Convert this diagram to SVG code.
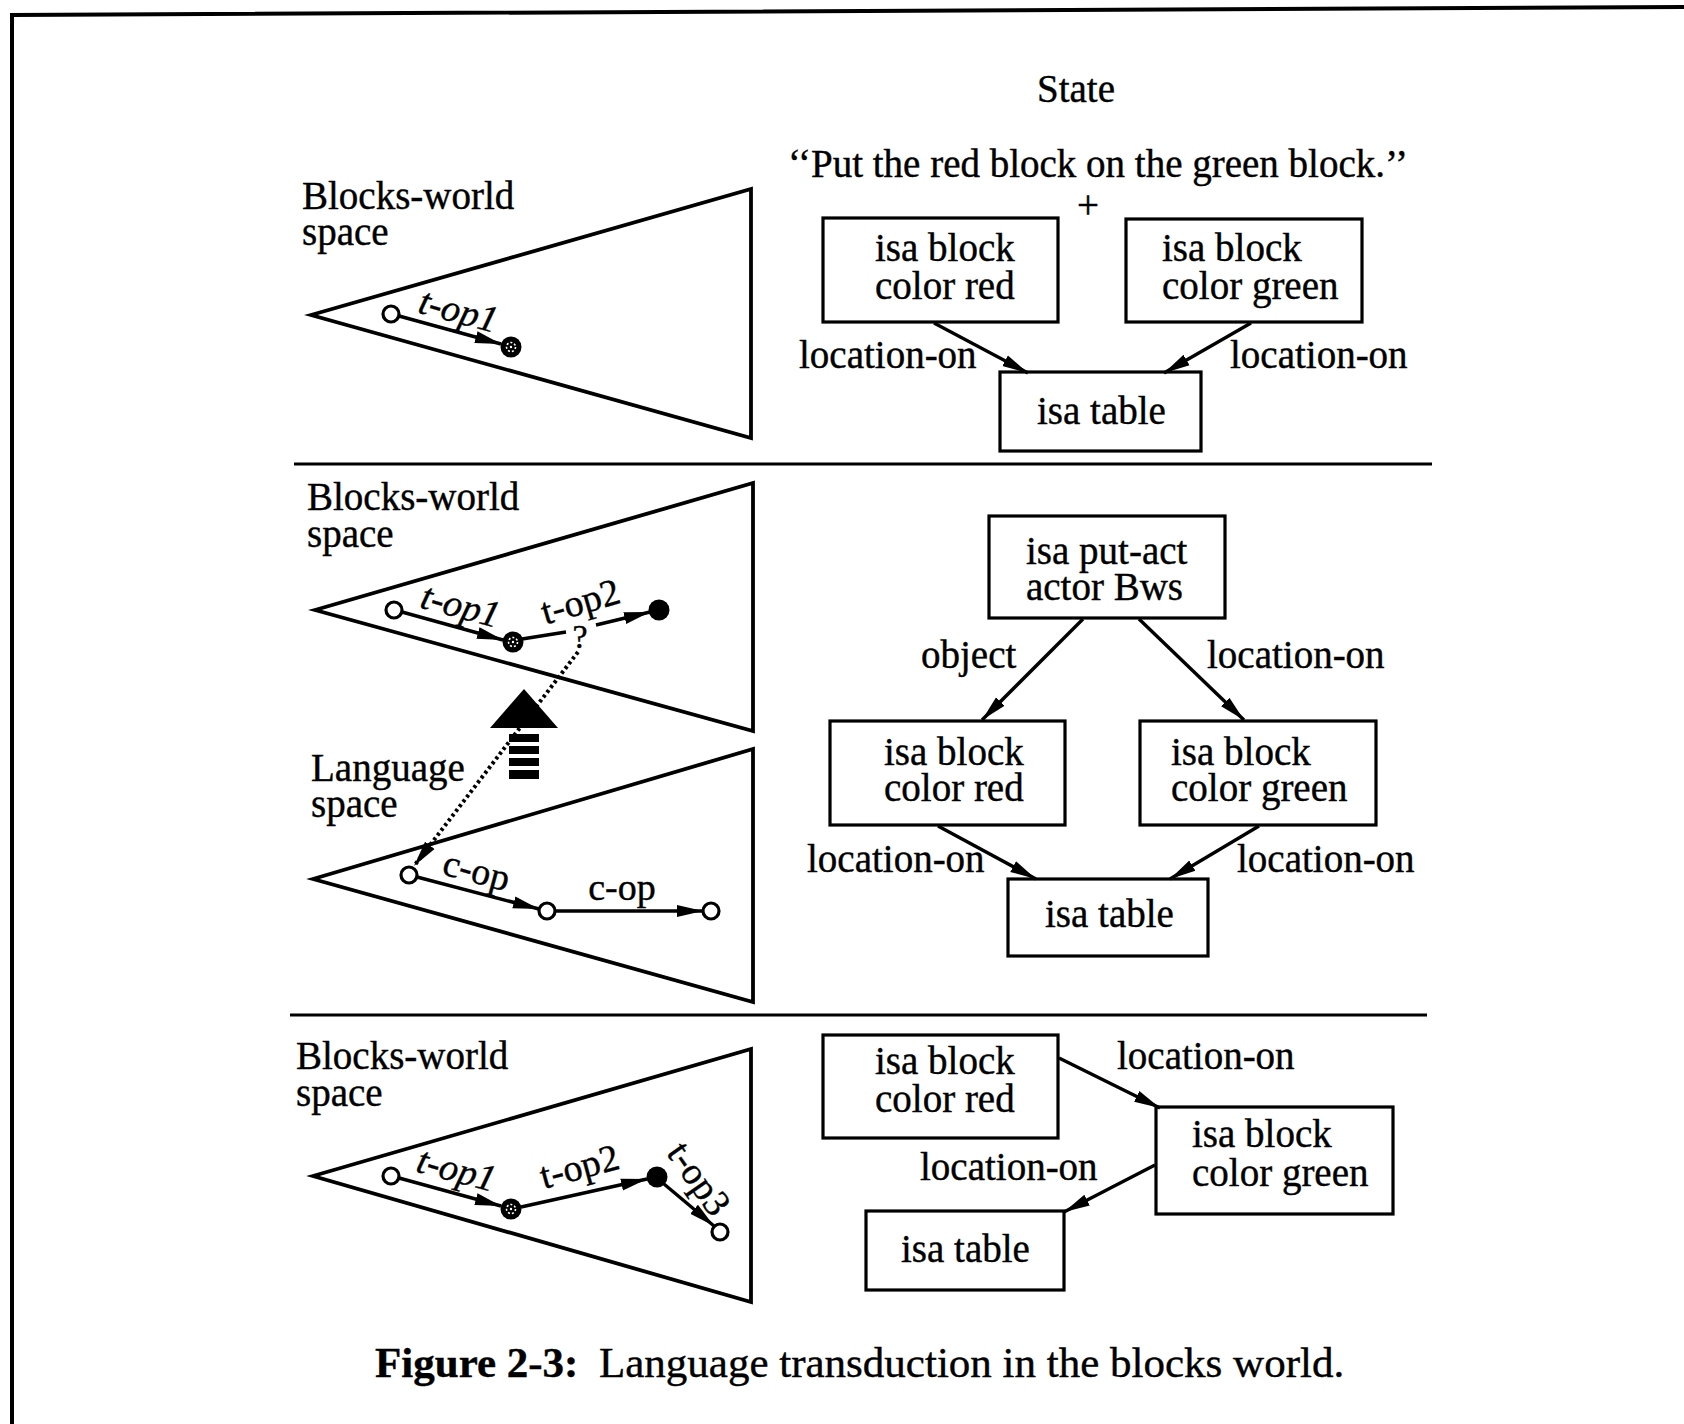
<svg xmlns="http://www.w3.org/2000/svg" width="1684" height="1424" viewBox="0 0 1684 1424">
  <style>
    text { font-family: "Liberation Serif", "Times New Roman", serif; font-size: 39px; fill: #000; stroke: #000; stroke-width: 0.4; }
    .lbl { font-size: 38px; }
    .it { font-style: italic; }
    .cap { font-size: 43px; }
    .box { fill: #fff; stroke: #000; stroke-width: 3.2; }
    .space { fill: none; stroke: #000; stroke-width: 3.8; stroke-linejoin: miter; }
    .edge { fill: none; stroke: #000; stroke-width: 3.4; }
    .rule { fill: none; stroke: #000; stroke-width: 3.2; }
    .open { fill: #fff; stroke: #000; stroke-width: 3.2; }
    .solid { fill: #000; }
    .dots { fill: none; stroke: #000; stroke-width: 4; stroke-dasharray: 3 3; }
  </style>
  <defs>
    <marker id="ah" markerUnits="userSpaceOnUse" markerWidth="28" markerHeight="14" refX="26" refY="7" orient="auto">
      <path d="M0,1 L26,7 L0,13 z" fill="#000"/>
    </marker>
    <!-- intermediate state: dark disc with a light speckle -->
    <g id="mid">
      <circle r="10.5" fill="#000"/>
      <circle r="4.5" fill="none" stroke="#fff" stroke-width="1.6" stroke-dasharray="2 2"/>
      <circle r="1.2" fill="#fff"/>
    </g>
  </defs>

  <rect width="1684" height="1424" fill="#fff"/>

  <!-- page frame -->
  <path d="M12,1424 L12,15 L1684,7" fill="none" stroke="#000" stroke-width="4"/>

  <!-- panel separators -->
  <line class="rule" x1="294" y1="464" x2="1432" y2="464"/>
  <line class="rule" x1="290" y1="1015" x2="1427" y2="1015"/>

  <!-- column heading and utterance -->
  <text x="1076" y="102" text-anchor="middle">State</text>
  <text x="1098" y="177" text-anchor="middle">‘‘Put the red block on the green block.’’</text>
  <text x="1088" y="218" text-anchor="middle">+</text>

  <!-- ===== Panel 1: problem space ===== -->
  <g id="space1">
    <polygon class="space" points="311,315 751,189 751,438"/>
    <text x="302" y="209">Blocks-world</text>
    <text x="302" y="245">space</text>
  </g>

  <!-- ===== Panel 2: problem spaces ===== -->
  <g id="space2-blocks">
    <polygon class="space" points="315,610 753,483 753,731"/>
    <text x="307" y="510">Blocks-world</text>
    <text x="307" y="547">space</text>
  </g>
  <g id="space2-language">
    <polygon class="space" points="313,879 753,749 753,1002"/>
    <text x="311" y="781">Language</text>
    <text x="311" y="817">space</text>
  </g>

  <!-- ===== Panel 3: problem space ===== -->
  <g id="space3">
    <polygon class="space" points="313,1176 751,1049 751,1302"/>
    <text x="296" y="1069">Blocks-world</text>
    <text x="296" y="1106">space</text>
  </g>

  <!-- transduction arrow between the spaces -->
  <g id="transduce">
    <polygon points="524,689 490,728 558,728" fill="#000"/>
    <rect x="509" y="734" width="30" height="8" fill="#000"/>
    <rect x="509" y="746" width="30" height="8" fill="#000"/>
    <rect x="509" y="758" width="30" height="8" fill="#000"/>
    <rect x="509" y="770" width="30" height="9" fill="#000"/>
  </g>

  <!-- state graph boxes -->
  <g id="p1-red">
    <rect class="box" x="823" y="218" width="235" height="104"/>
    <text x="875" y="261">isa block</text>
    <text x="875" y="299">color red</text>
  </g>
  <g id="p1-green">
    <rect class="box" x="1126" y="219" width="236" height="103"/>
    <text x="1162" y="261">isa block</text>
    <text x="1162" y="299">color green</text>
  </g>
  <g id="p1-table">
    <rect class="box" x="1000" y="372" width="201" height="79"/>
    <text x="1037" y="424">isa table</text>
  </g>

  <g id="p2-act">
    <rect class="box" x="989" y="516" width="236" height="102"/>
    <text x="1026" y="564">isa put-act</text>
    <text x="1026" y="600">actor Bws</text>
  </g>
  <g id="p2-red">
    <rect class="box" x="830" y="721" width="235" height="104"/>
    <text x="884" y="765">isa block</text>
    <text x="884" y="801">color red</text>
  </g>
  <g id="p2-green">
    <rect class="box" x="1140" y="721" width="236" height="104"/>
    <text x="1171" y="765">isa block</text>
    <text x="1171" y="801">color green</text>
  </g>
  <g id="p2-table">
    <rect class="box" x="1008" y="879" width="200" height="77"/>
    <text x="1045" y="927">isa table</text>
  </g>

  <g id="p3-red">
    <rect class="box" x="823" y="1035" width="235" height="103"/>
    <text x="875" y="1074">isa block</text>
    <text x="875" y="1112">color red</text>
  </g>
  <g id="p3-green">
    <rect class="box" x="1156" y="1107" width="237" height="107"/>
    <text x="1192" y="1147">isa block</text>
    <text x="1192" y="1186">color green</text>
  </g>
  <g id="p3-table">
    <rect class="box" x="866" y="1211" width="198" height="79"/>
    <text x="901" y="1262">isa table</text>
  </g>

  <!-- connectors -->
  <g id="connectors">
    <!-- panel 1 operators -->
    <line class="edge" x1="399" y1="316" x2="501" y2="344" marker-end="url(#ah)"/>
    <!-- panel 2 operators -->
    <line class="edge" x1="402" y1="612" x2="503" y2="640" marker-end="url(#ah)"/>
    <line class="edge" x1="522" y1="639" x2="566" y2="632"/>
    <line class="edge" x1="596" y1="625" x2="650" y2="612" marker-end="url(#ah)"/>
    <line class="dots" x1="578" y1="652" x2="414" y2="866" marker-end="url(#ah)"/>
    <line class="edge" x1="417" y1="877" x2="539" y2="909" marker-end="url(#ah)"/>
    <line class="edge" x1="555" y1="911" x2="703" y2="911" marker-end="url(#ah)"/>
    <!-- panel 3 operators -->
    <line class="edge" x1="399" y1="1178" x2="501" y2="1206" marker-end="url(#ah)"/>
    <line class="edge" x1="521" y1="1207" x2="647" y2="1179" marker-end="url(#ah)"/>
    <line class="edge" x1="664" y1="1184" x2="714" y2="1226" marker-end="url(#ah)"/>

    <!-- panel 1 relations -->
    <line class="edge" x1="934" y1="323" x2="1028" y2="373" marker-end="url(#ah)"/>
    <line class="edge" x1="1251" y1="323" x2="1164" y2="373" marker-end="url(#ah)"/>
    <!-- panel 2 relations -->
    <line class="edge" x1="1083" y1="619" x2="982" y2="720" marker-end="url(#ah)"/>
    <line class="edge" x1="1139" y1="619" x2="1244" y2="720" marker-end="url(#ah)"/>
    <line class="edge" x1="938" y1="826" x2="1036" y2="879" marker-end="url(#ah)"/>
    <line class="edge" x1="1259" y1="826" x2="1170" y2="879" marker-end="url(#ah)"/>
    <!-- panel 3 relations -->
    <line class="edge" x1="1059" y1="1058" x2="1160" y2="1108" marker-end="url(#ah)"/>
    <line class="edge" x1="1155" y1="1165" x2="1064" y2="1212" marker-end="url(#ah)"/>
  </g>

  <!-- states -->
  <g id="states">
    <circle class="open" cx="391" cy="314" r="8"/>
    <use href="#mid" x="511" y="347"/>

    <circle class="open" cx="394" cy="610" r="8"/>
    <use href="#mid" x="513" y="642"/>
    <circle class="solid" cx="659" cy="610" r="10.5"/>

    <circle class="open" cx="409" cy="875" r="8"/>
    <circle class="open" cx="547" cy="911" r="8"/>
    <circle class="open" cx="711" cy="911" r="8"/>

    <circle class="open" cx="391" cy="1176" r="8"/>
    <use href="#mid" x="511" y="1209"/>
    <circle class="solid" cx="657" cy="1177" r="10.5"/>
    <circle class="open" cx="720" cy="1232" r="8"/>
  </g>

  <!-- operator labels -->
  <g id="op-labels">
    <text class="lbl it" text-anchor="middle" transform="translate(458,313) rotate(15)" y="10">t-op1</text>
    <text class="lbl it" text-anchor="middle" transform="translate(460,608) rotate(15)" y="10">t-op1</text>
    <text class="lbl" text-anchor="middle" transform="translate(581,604) rotate(-16)" y="10">t-op2</text>
    <text class="lbl" text-anchor="middle" x="580" y="648" style="font-size:34px">?</text>
    <text class="lbl" text-anchor="middle" transform="translate(476,873) rotate(15)" y="10">c-op</text>
    <text class="lbl" text-anchor="middle" x="622" y="900">c-op</text>
    <text class="lbl it" text-anchor="middle" transform="translate(456,1172) rotate(15)" y="10">t-op1</text>
    <text class="lbl" text-anchor="middle" transform="translate(580,1169) rotate(-15)" y="10">t-op2</text>
    <text class="lbl" text-anchor="middle" transform="translate(697,1180) rotate(55)" y="10">t-op3</text>
  </g>

  <!-- relation labels -->
  <g id="rel-labels">
    <text x="799" y="368">location-on</text>
    <text x="1230" y="368">location-on</text>
    <text x="921" y="668">object</text>
    <text x="1207" y="668">location-on</text>
    <text x="807" y="872">location-on</text>
    <text x="1237" y="872">location-on</text>
    <text x="1117" y="1069">location-on</text>
    <text x="920" y="1180">location-on</text>
  </g>

  <!-- caption -->
  <text class="cap" x="375" y="1377"><tspan font-weight="bold">Figure 2-3:</tspan><tspan x="599">Language transduction in the blocks world.</tspan></text>
</svg>
